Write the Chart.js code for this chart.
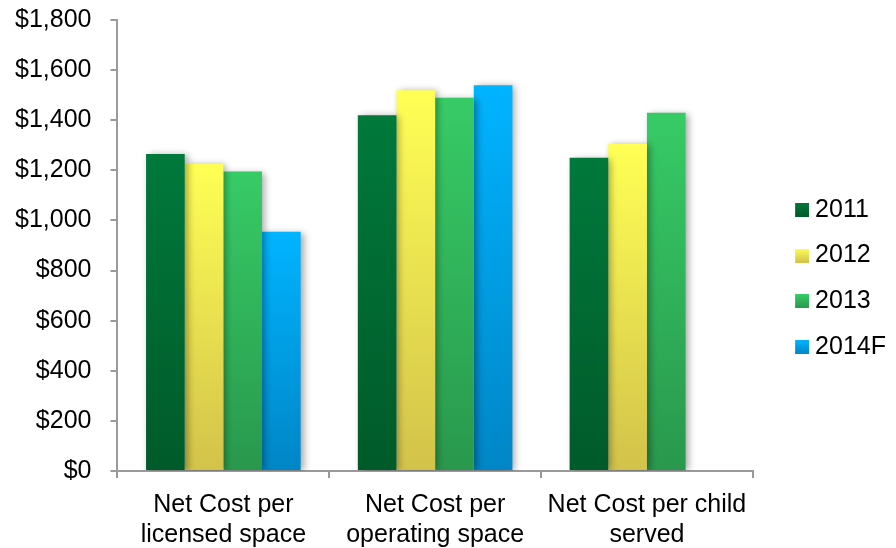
<!DOCTYPE html>
<html>
<head>
<meta charset="utf-8">
<script src="https://cdn.jsdelivr.net/npm/chart.js@4.4.1/dist/chart.umd.min.js"></script>
<style>
  html, body { margin: 0; padding: 0; background: #fff; }
  #wrap { width: 896px; height: 548px; position: relative; }
</style>
</head>
<body>
<div id="wrap"><canvas id="cost-chart" width="896" height="548"></canvas></div>
<script>
const categories = [
    ['Net Cost per', 'licensed space'],
    ['Net Cost per', 'operating space'],
    ['Net Cost per child', 'served']
]
const years = ['2011', '2012', '2013', '2014F']
const cost2011 = [1265, 1420, 1250]
const cost2012 = [1225, 1520, 1305]
const cost2013 = [1195, 1490, 1430]
const cost2014F = [955, 1540, null]
const yTicks = [0, 200, 400, 600, 800, 1000, 1200, 1400, 1600, 1800]

// top / bottom colour of each series
const fills = [
    ['#00793B', '#005A2A'],
    ['#FFFF55', '#D2C24A'],
    ['#37CB66', '#29984D'],
    ['#00B4FF', '#0086C6']
]

const FONT = 'Liberation Sans, Arial, sans-serif'

function barFill(stops) {
    return (ctx) => {
        const chart = ctx.chart
        const y = chart.scales.y
        if (!y || ctx.type !== 'data' || ctx.raw == null) return stops[0]
        const top = y.getPixelForValue(ctx.raw)
        const bottom = y.getPixelForValue(0)
        if (!isFinite(top) || !isFinite(bottom) || top === bottom) return stops[0]
        const g = chart.ctx.createLinearGradient(0, top, 0, bottom)
        g.addColorStop(0, stops[0])
        g.addColorStop(1, stops[1])
        return g
    }
}

// little gradient squares for the legend, box sits at the right of the image
function swatch(stops) {
    const c = document.createElement('canvas')
    c.width = 42
    c.height = 14
    const x = c.getContext('2d')
    const g = x.createLinearGradient(0, 0, 0, 14)
    g.addColorStop(0, stops[0])
    g.addColorStop(1, stops[1])
    x.fillStyle = g
    x.fillRect(28, 0, 14, 14)
    return c
}
const swatches = fills.map(swatch)

const barShadow = {
    id: 'barShadow',
    beforeDatasetsDraw(chart) {
        const c = chart.ctx
        c.save()
        c.shadowColor = 'rgba(0, 0, 0, 0.35)'
        c.shadowBlur = 7
        c.shadowOffsetX = 3
        c.shadowOffsetY = 1
    },
    afterDatasetsDraw(chart) {
        chart.ctx.restore()
    }
}

// nudge the legend block up a little
const legendNudge = {
    id: 'legendNudge',
    afterLayout(chart) {
        if (chart.legend) {
            chart.legend.top -= 6
            chart.legend.bottom -= 6
        }
    }
}

const series = [cost2011, cost2012, cost2013, cost2014F]

new Chart(document.getElementById('cost-chart'), {
    type: 'bar',
    data: {
        labels: categories,
        datasets: series.map((values, i) => ({
            label: years[i],
            data: values,
            backgroundColor: barFill(fills[i]),
            borderWidth: 0,
            categoryPercentage: 0.73,
            barPercentage: 1
        }))
    },
    plugins: [barShadow, legendNudge],
    options: {
        responsive: false,
        animation: false,
        devicePixelRatio: 1,
        // tick padding is counted twice in the axis size, hence the negatives
        layout: { padding: { left: -4, right: 0, top: 7, bottom: -14 } },
        plugins: {
            tooltip: { enabled: false },
            legend: {
                position: 'right',
                labels: {
                    usePointStyle: true,
                    pointStyleWidth: 29,
                    boxHeight: 14,
                    padding: 20.8,
                    color: '#000',
                    font: { family: FONT, size: 25 },
                    generateLabels: (chart) => chart.data.datasets.map((ds, i) => ({
                        text: ds.label,
                        pointStyle: swatches[i],
                        fillStyle: fills[i][0],
                        strokeStyle: 'transparent',
                        lineWidth: 0,
                        hidden: false,
                        datasetIndex: i,
                        fontColor: '#000'
                    }))
                }
            }
        },
        scales: {
            x: {
                grid: {
                    offset: true,
                    drawOnChartArea: false,
                    tickLength: 7,
                    color: '#9A9A9A',
                    lineWidth: 2
                },
                border: { color: '#9A9A9A', width: 2 },
                ticks: {
                    color: '#000',
                    font: { family: FONT, size: 25, lineHeight: 1.2 },
                    padding: 12,
                    maxRotation: 0,
                    autoSkip: false
                }
            },
            y: {
                min: 0,
                max: 1800,
                afterBuildTicks: (scale) => {
                    scale.ticks = yTicks.map(v => ({ value: v }))
                },
                grid: {
                    drawOnChartArea: false,
                    tickLength: 7,
                    color: '#9A9A9A',
                    lineWidth: 2
                },
                border: { color: '#9A9A9A', width: 2 },
                ticks: {
                    color: '#000',
                    // tiny line height keeps the top label from pushing the plot down
                    font: { family: FONT, size: 25, lineHeight: '2px' },
                    padding: 19,
                    callback: (v) => '$' + Number(v).toLocaleString('en-US')
                }
            }
        }
    }
})
</script>
</body>
</html>
